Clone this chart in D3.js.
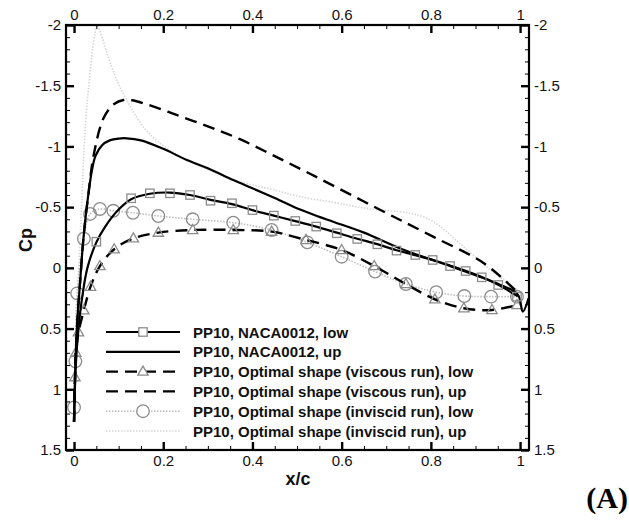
<!DOCTYPE html>
<html>
<head>
<meta charset="utf-8">
<script src="https://cdn.jsdelivr.net/npm/d3@7"></script>
<style>
  html, body { margin: 0; padding: 0; background: #fff; }
  svg { display: block; }
  text { font-family: "Liberation Sans", Arial, sans-serif; }
</style>
</head>
<body>
<svg id="chart" width="629" height="521"></svg>
<script>
// ---------------- data ----------------
const xTicks = [0, 0.2, 0.4, 0.6, 0.8, 1];
const xTickLabels = ["0", "0.2", "0.4", "0.6", "0.8", "1"];
const yTicks = [-2, -1.5, -1, -0.5, 0, 0.5, 1, 1.5];
const yTickLabels = ["-2", "-1.5", "-1", "-0.5", "0", "0.5", "1", "1.5"];

const seriesNames = [
  "PP10, NACA0012, low",
  "PP10, NACA0012, up",
  "PP10, Optimal shape (viscous run), low",
  "PP10, Optimal shape (viscous run), up",
  "PP10, Optimal shape (inviscid run), low",
  "PP10, Optimal shape (inviscid run), up"
];

// NACA0012, low (solid, squares)
const nacaLowX  = [0, 0.004, 0.01, 0.018, 0.03, 0.05, 0.07, 0.1, 0.128, 0.17, 0.215, 0.26, 0.306, 0.354, 0.4, 0.448, 0.496, 0.543, 0.589, 0.635, 0.68, 0.723, 0.765, 0.804, 0.843, 0.878, 0.914, 0.951, 0.995];
const nacaLowCp = [1.27, 0.8, 0.5, 0.25, 0.0, -0.21, -0.34, -0.48, -0.565, -0.61, -0.62, -0.6, -0.56, -0.525, -0.475, -0.43, -0.385, -0.34, -0.29, -0.24, -0.195, -0.145, -0.105, -0.065, -0.02, 0.025, 0.075, 0.14, 0.235];
const nacaLowMarkX  = [0.05, 0.128, 0.17, 0.215, 0.26, 0.306, 0.354, 0.4, 0.448, 0.496, 0.543, 0.589, 0.635, 0.68, 0.723, 0.765, 0.804, 0.843, 0.878, 0.914, 0.951, 0.993];
const nacaLowMarkCp = [-0.215, -0.573, -0.614, -0.614, -0.6, -0.553, -0.532, -0.476, -0.43, -0.386, -0.34, -0.285, -0.238, -0.194, -0.142, -0.106, -0.065, -0.015, 0.026, 0.078, 0.141, 0.237];

// NACA0012, up (solid)
const nacaUpX  = [0, 0.004, 0.008, 0.014, 0.02, 0.026, 0.033, 0.04, 0.048, 0.063, 0.08, 0.1, 0.118, 0.15, 0.2, 0.253, 0.3, 0.357, 0.4, 0.45, 0.507, 0.55, 0.581, 0.65, 0.731, 0.8, 0.843, 0.9, 0.95, 0.995, 1.006, 1.019];
const nacaUpCp = [1.27, 0.7, 0.4, 0.1, -0.2, -0.42, -0.63, -0.8, -0.92, -1.01, -1.05, -1.065, -1.067, -1.05, -0.98, -0.888, -0.82, -0.723, -0.655, -0.575, -0.48, -0.42, -0.38, -0.29, -0.16, -0.07, -0.015, 0.06, 0.13, 0.22, 0.36, 0.25];

// Optimal shape (viscous run), low (dashed, triangles)
const viscLowX  = [0, 0.002, 0.004, 0.01, 0.022, 0.037, 0.058, 0.09, 0.133, 0.189, 0.266, 0.357, 0.443, 0.52, 0.6, 0.673, 0.744, 0.809, 0.874, 0.937, 0.993];
const viscLowCp = [1.27, 0.9, 0.7, 0.53, 0.35, 0.155, -0.015, -0.153, -0.243, -0.29, -0.312, -0.312, -0.298, -0.23, -0.147, -0.015, 0.133, 0.259, 0.333, 0.347, 0.306];

// Optimal shape (viscous run), up (dashed)
const viscUpX  = [0, 0.004, 0.008, 0.014, 0.02, 0.026, 0.033, 0.04, 0.048, 0.058, 0.07, 0.09, 0.111, 0.13, 0.16, 0.222, 0.3, 0.372, 0.45, 0.529, 0.619, 0.709, 0.806, 0.918, 0.993];
const viscUpCp = [1.27, 0.7, 0.4, 0.1, -0.2, -0.42, -0.63, -0.84, -1.0, -1.15, -1.26, -1.35, -1.382, -1.38, -1.35, -1.27, -1.165, -1.06, -0.92, -0.775, -0.605, -0.435, -0.255, -0.04, 0.196];

// Optimal shape (inviscid run), low (dotted, circles)
const invLowX  = [0, 0.003, 0.007, 0.022, 0.036, 0.058, 0.088, 0.132, 0.189, 0.266, 0.357, 0.443, 0.523, 0.6, 0.675, 0.744, 0.812, 0.875, 0.935, 0.993];
const invLowCp = [1.15, 0.77, 0.21, -0.24, -0.444, -0.485, -0.47, -0.454, -0.427, -0.4, -0.372, -0.312, -0.21, -0.092, 0.031, 0.133, 0.201, 0.232, 0.237, 0.237];

// Optimal shape (inviscid run), up (dotted)
const invUpX  = [0, 0.004, 0.008, 0.013, 0.018, 0.022, 0.027, 0.033, 0.04, 0.047, 0.052, 0.06, 0.074, 0.09, 0.104, 0.123, 0.14, 0.16, 0.18, 0.21, 0.253, 0.3, 0.357, 0.45, 0.507, 0.58, 0.656, 0.753, 0.79, 0.821, 0.865, 0.925, 0.993];
const invUpCp = [1.27, 0.6, 0.2, -0.2, -0.6, -0.95, -1.25, -1.5, -1.75, -1.93, -2.0, -1.93, -1.767, -1.6, -1.48, -1.35, -1.24, -1.14, -1.065, -0.98, -0.89, -0.81, -0.725, -0.64, -0.586, -0.54, -0.49, -0.45, -0.41, -0.34, -0.2, -0.01, 0.18];

// ---------------- chart ----------------
const svg = d3.select("#chart");
const W = 629, H = 521;
const plot = { left: 66, top: 25, right: 529, bottom: 450 };

const x = d3.scaleLinear().domain([-0.018, 1.02]).range([plot.left, plot.right]);
const y = d3.scaleLinear().domain([-2, 1.5]).range([plot.top, plot.bottom]);

svg.append("rect").attr("width", W).attr("height", H).attr("fill", "#fff");

const defs = svg.append("defs");
defs.append("clipPath").attr("id", "clip")
  .append("rect").attr("x", plot.left).attr("y", plot.top)
  .attr("width", plot.right - plot.left).attr("height", plot.bottom - plot.top);

const pts = (xs, ys) => xs.map((v, i) => [v, ys[i]]);
const line = d3.line().x(d => x(d[0])).y(d => y(d[1])).curve(d3.curveCatmullRom.alpha(0.5));

const styles = {
  solid:  { stroke: "#000", width: 2.2, dash: null },
  dashed: { stroke: "#000", width: 2.4, dash: "12,7" },
  dotLow: { stroke: "#bdbdbd", width: 1.6, dash: "1.5,1.5" },
  dotUp:  { stroke: "#d6d6d6", width: 1.6, dash: "1.5,1.5" }
};
const markerColor = "#8c8c8c";

const g = svg.append("g").attr("clip-path", "url(#clip)");

function drawLine(data, st) {
  const p = g.append("path").datum(data)
    .attr("d", line).attr("fill", "none")
    .attr("stroke", st.stroke).attr("stroke-width", st.width)
    .attr("stroke-linejoin", "round");
  if (st.dash) p.attr("stroke-dasharray", st.dash);
}

function marker(sel, type) {
  if (type === "square") {
    sel.append("rect").attr("x", -4.2).attr("y", -4.2).attr("width", 8.4).attr("height", 8.4);
  } else if (type === "triangle") {
    sel.append("path").attr("d", "M0,-5.5L5.2,3.6L-5.2,3.6Z");
  } else if (type === "circle") {
    sel.append("circle").attr("r", 6.3);
  }
  sel.selectAll("*").attr("fill", "none").attr("stroke", markerColor).attr("stroke-width", 1.3);
}

function drawMarkers(data, type) {
  g.selectAll(null).data(data).enter().append("g")
    .attr("transform", d => `translate(${x(d[0])},${y(d[1])})`)
    .each(function () { marker(d3.select(this), type); });
}

// order: gray first
drawLine(pts(invUpX, invUpCp), styles.dotUp);
drawLine(pts(invLowX, invLowCp), styles.dotLow);
drawMarkers(pts(invLowX, invLowCp), "circle");
drawLine(pts(viscUpX, viscUpCp), styles.dashed);
drawLine(pts(viscLowX, viscLowCp), styles.dashed);
drawMarkers(pts(viscLowX, viscLowCp).slice(1), "triangle");
drawLine(pts(nacaUpX, nacaUpCp), styles.solid);
drawLine(pts(nacaLowX, nacaLowCp), styles.solid);
drawMarkers(pts(nacaLowMarkX, nacaLowMarkCp), "square");

// ---------------- axes ----------------
const xMinor = d3.range(0, 1.0001, 0.05).filter(v => !xTicks.some(t => Math.abs(t - v) < 1e-6));
const yMinor = d3.range(-2, 1.5001, 0.1).filter(v => !yTicks.some(t => Math.abs(t - v) < 1e-6));

function styleAxis(sel, fontSize) {
  sel.select(".domain").remove();
  sel.selectAll(".tick line").attr("stroke", "#000");
  sel.selectAll(".tick text").attr("fill", "#111").style("font-size", fontSize + "px")
    .style("font-family", "'Liberation Sans', Arial, sans-serif");
}

function addAxis(axisFn, scale, ticks, labels, minor, transform) {
  const major = svg.append("g").attr("transform", transform)
    .call(axisFn(scale).tickValues(ticks).tickSize(-8).tickPadding(5)
      .tickFormat((d, i) => labels[i]));
  styleAxis(major, 15);
  major.selectAll(".tick line").attr("stroke-width", 2.4);
  const mn = svg.append("g").attr("transform", transform)
    .call(axisFn(scale).tickValues(minor).tickSize(-4).tickFormat(""));
  styleAxis(mn, 15);
  mn.selectAll(".tick line").attr("stroke-width", 1);
  return major;
}

addAxis(d3.axisLeft, y, yTicks, yTickLabels, yMinor, `translate(${plot.left},0)`);
addAxis(d3.axisRight, y, yTicks, yTickLabels, yMinor, `translate(${plot.right},0)`);
addAxis(d3.axisTop, x, xTicks, xTickLabels, xMinor, `translate(0,${plot.top})`);
addAxis(d3.axisBottom, x, xTicks, xTickLabels, xMinor, `translate(0,${plot.bottom})`);

svg.append("rect")
  .attr("x", plot.left).attr("y", plot.top)
  .attr("width", plot.right - plot.left).attr("height", plot.bottom - plot.top)
  .attr("fill", "none").attr("stroke", "#000").attr("stroke-width", 2.2);

// axis titles
svg.append("text").attr("x", 298).attr("y", 485).attr("text-anchor", "middle")
  .style("font-size", "18px").style("font-weight", "bold").attr("fill", "#111").text("x/c");
svg.append("text").attr("transform", "translate(32,240) rotate(-90)").attr("text-anchor", "middle")
  .style("font-size", "18px").style("font-weight", "bold").attr("fill", "#111").text("Cp");

// panel label
svg.append("text").attr("x", 628).attr("y", 508).attr("text-anchor", "end")
  .style("font-family", "'Liberation Serif', 'Times New Roman', serif")
  .style("font-size", "30px").style("font-weight", "bold").attr("fill", "#000").text("(A)");

// ---------------- legend ----------------
const legendItems = [
  { name: seriesNames[0], st: styles.solid, mk: "square" },
  { name: seriesNames[1], st: styles.solid, mk: null },
  { name: seriesNames[2], st: styles.dashed, mk: "triangle" },
  { name: seriesNames[3], st: styles.dashed, mk: null },
  { name: seriesNames[4], st: styles.dotLow, mk: "circle" },
  { name: seriesNames[5], st: styles.dotUp, mk: null }
];
const legY = d3.scalePoint().domain(d3.range(legendItems.length)).range([332, 431]);
const leg = svg.append("g");
legendItems.forEach((it, i) => {
  const row = leg.append("g").attr("transform", `translate(0,${legY(i)})`);
  const ln = row.append("line").attr("x1", 106).attr("x2", 180).attr("y1", 0).attr("y2", 0)
    .attr("stroke", it.st.stroke).attr("stroke-width", it.st.width);
  if (it.st.dash) ln.attr("stroke-dasharray", it.st.dash);
  if (it.mk) {
    const m = row.append("g").attr("transform", "translate(143,0)");
    marker(m, it.mk);
    m.selectAll("*").attr("fill", "#fff");
  }
  row.append("text").attr("x", 193).attr("y", 5.5)
    .style("font-size", "15px").style("font-weight", "bold").attr("fill", "#111").text(it.name);
});
</script>
</body>
</html>
